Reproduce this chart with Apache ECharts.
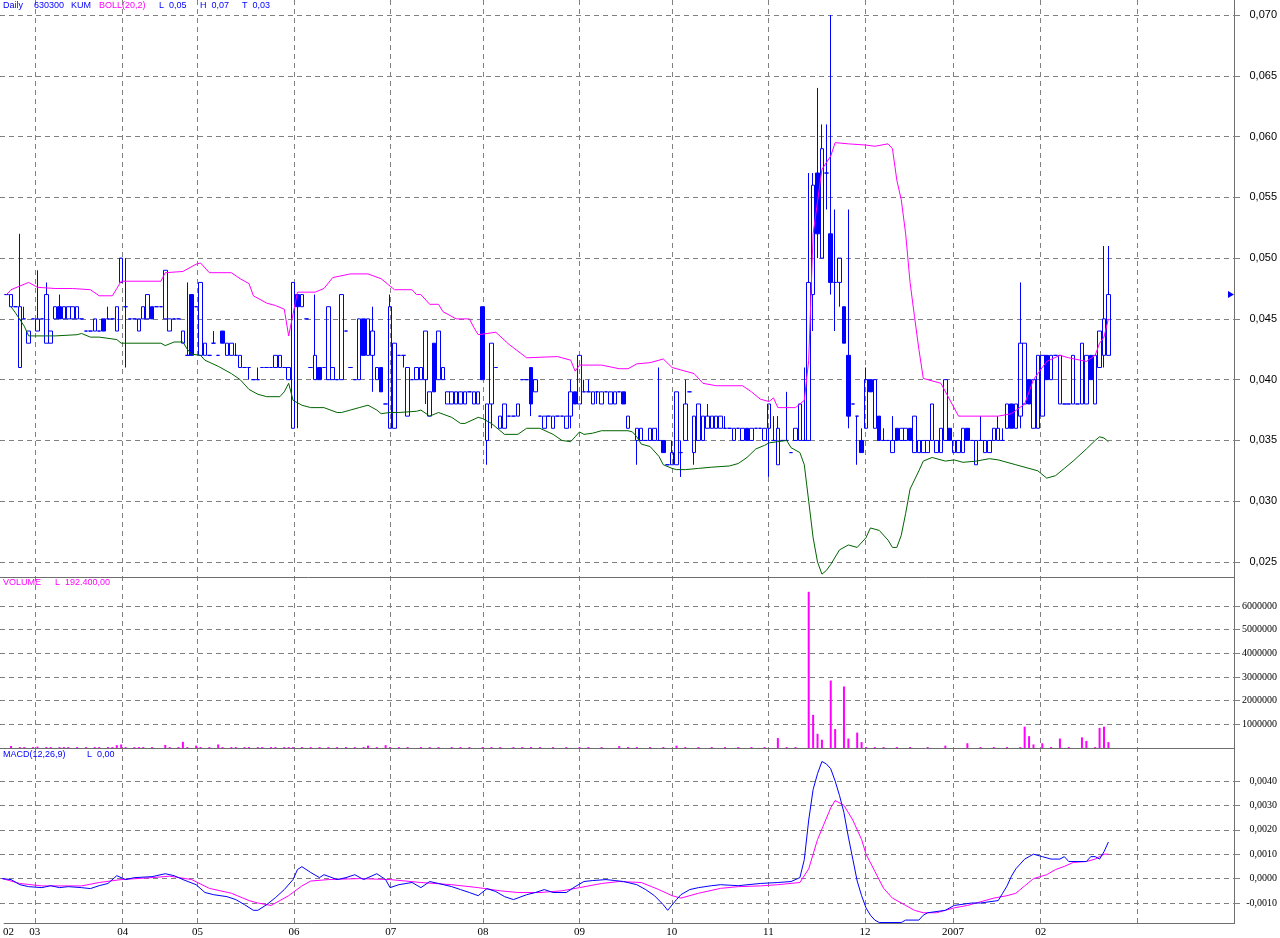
<!DOCTYPE html>
<html><head><meta charset="utf-8">
<script src="https://cdn.jsdelivr.net/npm/echarts@6/dist/echarts.min.js"></script>
<style>html,body{margin:0;padding:0;background:#fff}#c{width:1280px;height:938px}</style>
</head><body><div id="c"></div>
<script>
// trading days per month (Feb 2006 .. Mar 2007) and month labels
const monthBars = [7,20,17,22,22,21,22,21,22,22,20,20,22,22];
const monthLabels = ['02','03','04','05','06','07','08','09','10','11','12','2007','02',''];

// OHLC as [open, close, low, high]; null = no bar
const candles = [
null,[.047,.047,.047,.047],[.046,.047,.046,.047],[.046,.046,.046,.046],[.041,.046,.041,.052],[.045,.045,.045,.046],[.043,.044,.043,.044],
[.045,.045,.045,.045],[.044,.045,.044,.049],[.045,.045,.045,.045],[.043,.047,.043,.048],[.043,.044,.043,.044],[.045,.046,.045,.046],[.046,.045,.045,.047],
[.045,.046,.045,.046],[.045,.046,.045,.046],[.045,.046,.045,.046],[.045,.046,.045,.046],[.045,.045,.045,.045],[.044,.044,.044,.044],[.044,.044,.044,.044],
[.044,.045,.044,.045],[.044,.044,.044,.044],[.045,.044,.044,.045],[.045,.045,.045,.046],[.045,.045,.045,.045],[.044,.046,.044,.046],
[.048,.050,.048,.050],[.046,.046,.041,.050],[.045,.045,.045,.045],[.045,.045,.045,.045],[.044,.045,.044,.045],[.045,.046,.045,.046],[.045,.047,.045,.047],
[.046,.045,.045,.046],[.046,.046,.046,.046],[.046,.046,.046,.046],[.045,.049,.045,.049],[.044,.045,.044,.045],[.045,.045,.045,.045],[.045,.045,.045,.045],
[.043,.044,.043,.044],[.042,.042,.042,.048],[.047,.042,.042,.047],
[.046,.046,.046,.046],[.042,.048,.042,.048],[.042,.043,.042,.043],[.042,.042,.042,.042],[.043,.043,.043,.044],[.042,.042,.042,.042],[.044,.043,.043,.044],
[.042,.043,.042,.043],[.042,.043,.042,.043],[.042,.042,.042,.043],[.041,.042,.041,.042],[.041,.041,.041,.041],[.041,.041,.040,.041],[.040,.040,.040,.040],
[.040,.040,.040,.041],[.041,.041,.041,.041],[.041,.041,.041,.041],[.041,.041,.041,.041],[.041,.042,.041,.042],[.041,.042,.041,.042],[.041,.041,.041,.041],
[.040,.041,.040,.041],
[.036,.048,.036,.048],[.047,.046,.036,.047],[.046,.047,.046,.047],[.045,.045,.045,.045],[.041,.041,.041,.041],[.040,.042,.040,.047],[.041,.040,.040,.041],
[.041,.041,.041,.041],[.040,.046,.040,.046],[.040,.041,.040,.041],[.040,.040,.040,.040],[.040,.047,.040,.047],[.044,.044,.044,.044],[.041,.041,.041,.041],
[.040,.040,.040,.040],[.040,.045,.040,.045],[.045,.042,.042,.045],[.042,.045,.042,.045],[.042,.044,.039,.046],[.040,.041,.040,.041],[.041,.039,.039,.041],
[.038,.038,.038,.038],
[.036,.046,.036,.047],[.036,.043,.036,.043],[.042,.042,.042,.042],[.042,.042,.041,.042],[.037,.041,.037,.041],[.040,.040,.040,.040],[.040,.041,.040,.041],
[.040,.041,.040,.041],[.040,.044,.038,.044],[.037,.039,.037,.039],[.043,.039,.039,.043],[.040,.044,.040,.044],[.040,.041,.040,.041],[.038,.039,.038,.039],
[.038,.039,.038,.039],[.038,.039,.038,.039],[.038,.039,.038,.039],[.038,.039,.038,.039],[.039,.039,.039,.039],[.038,.039,.038,.039],[.038,.039,.038,.039],
[.046,.040,.040,.046],[.035,.038,.033,.038],[.038,.043,.036,.043],[.041,.041,.041,.041],[.036,.037,.036,.037],[.036,.038,.036,.038],[.037,.037,.037,.037],
[.037,.037,.037,.037],[.037,.038,.037,.038],[.040,.040,.040,.040],[.040,.040,.040,.040],[.041,.038,.037,.041],[.039,.040,.039,.040],[.037,.037,.037,.037],
[.036,.037,.036,.037],[.037,.037,.037,.037],[.036,.037,.036,.037],[.037,.037,.037,.037],[.037,.037,.037,.037],[.036,.037,.036,.037],[.037,.039,.036,.040],
[.039,.038,.038,.039],
[.038,.042,.038,.042],[.039,.039,.039,.040],[.039,.039,.039,.040],[.038,.039,.038,.039],[.039,.039,.038,.039],[.038,.039,.038,.039],[.039,.039,.039,.039],
[.038,.039,.038,.039],[.038,.039,.038,.039],[.039,.039,.039,.039],[.039,.038,.038,.039],[.036,.037,.036,.037],null,[.035,.036,.033,.036],
[.035,.036,.035,.036],[.035,.035,.035,.035],[.035,.036,.035,.036],[.035,.036,.035,.036],[.035,.035,.035,.041],[.035,.034,.034,.035],[.033,.033,.033,.033],
[.033,.034,.033,.035],[.033,.039,.033,.039],[.034,.034,.032,.035],[.035,.038,.035,.040],[.039,.039,.039,.039],[.034,.037,.033,.037],[.035,.038,.035,.038],
[.035,.037,.035,.037],[.036,.037,.036,.038],[.036,.037,.036,.037],[.036,.037,.036,.037],[.036,.037,.036,.037],[.036,.036,.036,.037],[.036,.036,.036,.036],
[.035,.036,.035,.036],[.036,.036,.036,.036],[.035,.036,.035,.036],[.036,.035,.035,.036],[.035,.036,.035,.036],[.036,.036,.036,.036],[.036,.036,.036,.036],
[.035,.036,.035,.036],
[.036,.038,.032,.038],[.035,.035,.035,.037],[.033,.036,.033,.037],[.035,.035,.035,.035],[.035,.035,.035,.039],[.034,.034,.034,.034],[.035,.036,.035,.036],
[.035,.038,.035,.038],[.035,.035,.035,.041],[.035,.048,.035,.057],[.047,.056,.044,.057],[.057,.052,.050,.064],[.050,.059,.050,.061],[.057,.057,.054,.061],
[.052,.048,.047,.070],[.048,.048,.044,.054],[.048,.050,.046,.050],[.046,.043,.043,.046],[.042,.037,.036,.054],[.038,.038,.038,.038],[.037,.037,.033,.037],
[.035,.034,.034,.036],
[.036,.040,.036,.041],[.040,.039,.039,.040],[.036,.040,.036,.040],[.037,.035,.035,.037],[.035,.035,.035,.036],[.035,.035,.035,.035],[.034,.035,.034,.037],
[.036,.035,.035,.036],[.035,.036,.035,.036],[.035,.036,.035,.036],[.036,.035,.035,.036],[.034,.037,.034,.037],[.034,.035,.034,.035],[.034,.035,.034,.035],
[.034,.035,.034,.035],[.035,.038,.035,.038],[.034,.035,.034,.035],[.034,.036,.034,.036],[.035,.040,.035,.040],[.036,.035,.035,.036],
[.034,.035,.034,.035],[.034,.035,.034,.035],[.034,.036,.034,.036],[.036,.035,.035,.036],[.035,.035,.035,.035],[.033,.035,.033,.035],[.035,.035,.035,.037],
[.034,.035,.034,.035],[.034,.035,.034,.035],[.035,.036,.035,.036],[.035,.036,.035,.037],[.035,.035,.035,.036],[.036,.038,.036,.038],[.038,.036,.036,.038],
[.036,.038,.036,.038],[.037,.043,.036,.048],[.038,.043,.038,.043],[.040,.038,.038,.040],[.036,.040,.036,.040],[.036,.042,.036,.042],
[.037,.042,.037,.042],[.042,.040,.040,.042],[.040,.042,.040,.042],[.042,.042,.042,.042],[.038,.042,.038,.042],[.038,.038,.038,.038],[.038,.038,.038,.038],
[.038,.042,.038,.042],[.038,.038,.038,.038],[.038,.043,.038,.043],[.038,.042,.038,.042],[.042,.040,.040,.042],[.038,.042,.038,.042],[.041,.044,.041,.044],
[.042,.045,.041,.051],[.042,.047,.042,.051]
];

// Bollinger bands (20,2): [bar index, value]
const bollUpper = [[1,.0470],[2,.0474],[6,.0480],[8,.0476],[12,.0475],[16,.0475],[20,.0474],[22,.0469],[25,.0469],[26,.0475],[27,.0481],[36,.0481],[37,.0488],[41,.0489],[44,.0495],[45,.0496],[47,.0488],[52,.0488],[54,.0483],[56,.0479],[57,.0469],[60,.0463],[62,.0461],[64,.0458],[65,.0436],[67,.0472],[71,.0472],[73,.0475],[75,.0484],[79,.0487],[83,.0487],[86,.0483],[88,.0477],[89,.0474],[93,.0474],[94,.0470],[95,.0470],[97,.0462],[99,.0462],[100,.0456],[103,.0450],[106,.0450],[107,.0443],[108,.0437],[112,.0439],[115,.0429],[119,.0418],[126,.0419],[129,.0416],[130,.0407],[131,.0412],[136,.0412],[140,.0409],[142,.0409],[144,.0413],[147,.0414],[150,.0417],[152,.0410],[154,.0408],[157,.0405],[159,.0397],[162,.0395],[168,.0395],[170,.0390],[172,.0384],[174,.0382],[175,.0385],[176,.0377],[180,.0377],[181,.0380],[182,.0383],[183,.0416],[184,.0520],[186,.0573],[188,.0584],[189,.0595],[192,.0594],[196,.0593],[198,.0592],[201,.0594],[202,.0590],[203,.0564],[204,.0548],[205,.0520],[206,.0480],[207,.0452],[208,.0425],[209,.0401],[213,.0397],[217,.0370],[226,.0370],[229,.0372],[232,.0380],[234,.0400],[237,.0415],[240,.0420],[242,.0418],[246,.0415],[248,.0420],[249,.0430],[250,.0435],[251,.0450]];
const bollLower = [[2,.0460],[3,.0455],[5,.0444],[6,.0436],[12,.0436],[17,.0437],[18,.0438],[20,.0435],[22,.0435],[24,.0434],[26,.0433],[27,.0430],[36,.0430],[37,.0428],[39,.0431],[41,.0431],[42,.0425],[43,.0421],[45,.0420],[46,.0416],[49,.0411],[52,.0405],[54,.0400],[56,.0392],[58,.0388],[60,.0386],[63,.0386],[64,.0390],[65,.0397],[66,.0383],[68,.0379],[70,.0377],[73,.0377],[76,.0373],[77,.0373],[79,.0375],[81,.0377],[83,.0379],[85,.0375],[86,.0372],[88,.0373],[90,.0373],[94,.0374],[95,.0375],[97,.0370],[99,.0373],[102,.0369],[104,.0364],[105,.0364],[108,.0369],[109,.0368],[111,.0364],[114,.0355],[117,.0355],[119,.0360],[122,.0360],[125,.0355],[127,.0350],[129,.0349],[130,.0353],[131,.0357],[132,.0355],[134,.0356],[136,.0358],[142,.0358],[143,.0357],[144,.0353],[145,.0347],[147,.0345],[149,.0337],[150,.0330],[152,.0327],[153,.0326],[155,.0326],[158,.0327],[161,.0328],[165,.0329],[167,.0331],[169,.0336],[171,.0343],[173,.0346],[174,.0348],[176,.0349],[178,.0350],[179,.0344],[181,.0340],[182,.0330],[183,.0300],[184,.0270],[185,.0250],[186,.0240],[187,.0243],[188,.0248],[190,.0260],[192,.0264],[194,.0262],[196,.0270],[197,.0278],[199,.0276],[201,.0268],[202,.0262],[203,.0262],[204,.0272],[205,.0290],[206,.0310],[208,.0325],[209,.0333],[211,.0336],[214,.0333],[216,.0334],[218,.0332],[221,.0333],[224,.0335],[226,.0334],[228,.0332],[230,.0330],[233,.0327],[235,.0325],[237,.0319],[239,.0321],[241,.0327],[243,.0333],[246,.0343],[248,.0350],[249,.0353],[250,.0352],[251,.0349]];

// Volume: [bar index, shares]
const volume = [[2,85000],[4,40000],[5,40000],[7,40000],[8,60000],[10,40000],[11,40000],[13,40000],[14,40000],[15,40000],[17,40000],[19,40000],[21,40000],[22,40000],[24,40000],[25,40000],[26,120000],[27,150000],[28,40000],[30,40000],[31,40000],[32,40000],[34,40000],[37,130000],[38,40000],[40,40000],[41,260000],[42,40000],[44,100000],[45,40000],[47,40000],[49,150000],[50,40000],[52,40000],[53,40000],[55,40000],[56,40000],[58,40000],[59,40000],[61,40000],[62,40000],[64,40000],[65,40000],[66,40000],[68,40000],[70,40000],[72,40000],[74,40000],[76,40000],[78,40000],[80,40000],[82,40000],[83,100000],[85,40000],[87,120000],[88,40000],[90,40000],[92,40000],[95,40000],[97,40000],[99,40000],[102,40000],[104,40000],[106,40000],[109,40000],[111,40000],[113,40000],[116,40000],[118,40000],[120,40000],[122,40000],[125,40000],[128,40000],[131,40000],[133,40000],[136,40000],[140,80000],[142,40000],[144,40000],[147,40000],[150,40000],[153,100000],[155,40000],[158,40000],[161,40000],[164,40000],[167,40000],[170,40000],[173,40000],[176,420000],[178,40000],[180,40000],[183,6600000],[184,1400000],[185,600000],[186,350000],[188,2850000],[189,800000],[191,2600000],[192,400000],[194,650000],[195,250000],[196,40000],[198,40000],[200,40000],[203,40000],[206,40000],[210,40000],[214,100000],[219,200000],[222,40000],[225,40000],[228,40000],[231,40000],[232,900000],[233,500000],[234,150000],[236,200000],[238,40000],[240,400000],[242,40000],[245,450000],[246,300000],[248,40000],[249,850000],[250,900000],[251,250000]];

// MACD(12,26,9): [bar index, value]
const macdLine = [[0,.0000],[2,-.00004],[4,-.00025],[6,-.00033],[9,-.00037],[11,-.00029],[13,-.00037],[15,-.00033],[18,-.00037],[20,-.00041],[22,-.00029],[24,-.0002],[26,.00012],[28,-.00004],[30,.00004],[34,.00008],[37,.0002],[39,.00012],[41,-.00004],[44,-.00025],[46,-.00057],[48,-.00066],[51,-.00074],[53,-.00086],[55,-.00107],[57,-.0013],[58,-.0013],[60,-.00107],[62,-.00078],[64,-.00045],[66,-.00004],[67,.00037],[68,.00049],[70,.00025],[72,.00004],[73,.00016],[76,-.00004],[78,.00004],[80,.00016],[82,-.00004],[85,.0002],[87,-.00004],[88,-.00037],[90,-.00025],[93,-.00016],[95,-.00037],[97,-.00012],[99,-.0002],[102,-.00033],[104,-.00045],[106,-.00057],[108,-.0007],[110,-.00041],[112,-.00053],[114,-.00074],[116,-.00086],[119,-.00066],[121,-.00057],[123,-.00045],[125,-.00057],[128,-.00057],[130,-.00033],[132,-.00012],[134,-.00008],[137,-.00004],[139,-.00008],[141,-.00012],[144,-.00025],[146,-.00045],[148,-.0007],[150,-.00107],[151,-.0013],[153,-.00086],[154,-.00066],[156,-.00045],[158,-.00037],[161,-.00029],[163,-.00025],[167,-.00029],[172,-.0002],[176,-.00016],[179,-.00012],[181,.00004],[182,.00078],[183,.0024],[184,.00365],[185,.0043],[186,.0048],[187,.0047],[188,.0045],[189,.0040],[190,.0034],[191,.0027],[192,.0017],[193,.0008],[194,-.0001],[195,-.0007],[196,-.0012],[197,-.0015],[198,-.0017],[199,-.0018],[204,-.0018],[205,-.0017],[208,-.0017],[209,-.0015],[210,-.0014],[214,-.0013],[216,-.0011],[220,-.0010],[222,-.0010],[226,-.0009],[227,-.0006],[228,-.0003],[229,.0001],[230,.0004],[231,.0006],[232,.0008],[233,.0009],[234,.0010],[236,.0009],[238,.0008],[240,.0008],[241,.0009],[242,.0007],[246,.0007],[247,.0009],[248,.0009],[249,.0008],[250,.0011],[251,.0015]];
const macdSignal = [[0,.0000],[4,-.0002],[9,-.0003],[18,-.0003],[22,-.00016],[27,-.00004],[34,.00004],[38,.0001],[43,-.00004],[47,-.0004],[52,-.0006],[56,-.0009],[58,-.0010],[61,-.0011],[63,-.0009],[65,-.0007],[68,-.0003],[70,-.0001],[74,-.00004],[81,.0000],[88,-.00004],[95,-.00016],[102,-.00025],[108,-.00037],[113,-.0005],[117,-.00057],[122,-.00057],[127,-.0005],[131,-.00037],[136,-.0002],[140,-.00012],[145,-.00016],[149,-.00045],[152,-.0007],[154,-.0008],[158,-.0006],[163,-.0004],[167,-.00033],[172,-.0003],[176,-.00025],[181,-.00016],[183,.0004],[185,.0016],[188,.0029],[189,.0032],[191,.0030],[193,.0024],[195,.0016],[196,.0010],[198,.0003],[200,-.0004],[202,-.0008],[205,-.0011],[207,-.0013],[209,-.0014],[212,-.0014],[214,-.0013],[216,-.0012],[219,-.0011],[221,-.0010],[223,-.0009],[225,-.0008],[228,-.0007],[230,-.0006],[232,-.0003],[234,.0000],[237,.00016],[239,.00037],[241,.0005],[243,.00066],[246,.0007],[248,.0008],[250,.0010],[251,.0010]];

// ---- build categories and month boundaries ----
const categories = [];
const lineValues = [];      // month boundaries that get a dashed line
const labelAt = {};         // label position -> text
const firstBar = candles.findIndex(d => d);
monthBars.forEach((n, m) => {
  const start = categories.length;
  if (m === 0) { labelAt[firstBar] = monthLabels[m]; }
  else { lineValues.push(start); if (monthLabels[m]) labelAt[start] = monthLabels[m]; }
  for (let k = 0; k < n; k++) categories.push('m' + m + 'd' + (k + 1));
});
const N = categories.length;
const labelValues = Object.keys(labelAt).map(Number);
const candleData = candles.map(d => d ? d : ['-','-','-','-']);

const BLUE = '#0000ff', MAG = '#ff00ff', GREEN = '#006400', GRID = '#808080', FRAME = '#6e6e6e';
const dash = {color: GRID, type: [5, 4], width: 1};

const chart = echarts.init(document.getElementById('c'), null, {renderer: 'canvas'});

const hiddenX = g => ({type: 'category', gridIndex: g, data: categories, boundaryGap: true, show: false});
const yBase = (g, min, max, interval, fmt, font, size) => ({
  type: 'value', gridIndex: g, position: 'right', min, max, interval,
  axisLine: {show: false},
  axisTick: {show: true, length: 6, lineStyle: {color: GRID}},
  splitLine: {show: true, lineStyle: dash},
  axisLabel: {formatter: fmt, align: 'right', margin: 43, fontSize: size, fontFamily: font, color: '#000'}
});

const txt = (x, y, s, color) => ({type: 'text', x, y, silent: true,
  style: {text: s, fill: color, font: '9px "Liberation Sans"', verticalAlign: 'top'}});
const hline = (x1, y1, x2, y2) => ({type: 'line', silent: true, shape: {x1, y1, x2, y2}, style: {stroke: FRAME, lineWidth: 1}});

const option = {
  animation: false,
  backgroundColor: '#fff',
  grid: [
    {left: 0, top: 15, width: 1234, height: 547},
    {left: 0, top: 606, width: 1234, height: 142},
    {left: 0, top: 781, width: 1234, height: 122},
    {left: 0, top: 0, width: 1234, height: 924}
  ],
  xAxis: [hiddenX(0), hiddenX(1), hiddenX(2), {
    type: 'value', gridIndex: 3, min: 0, max: N,
    axisLine: {show: true, onZero: false, lineStyle: {color: FRAME}},
    axisTick: {show: true, length: 0, customValues: lineValues},
    axisLabel: {customValues: labelValues, formatter: v => labelAt[Math.round(v)] || '',
      fontSize: 11, fontFamily: 'Liberation Serif', color: '#000', margin: 4, showMinLabel: true, showMaxLabel: true},
    splitLine: {show: true, lineStyle: dash}
  }],
  yAxis: [
    yBase(0, .025, .070, .005, v => v.toFixed(3).replace('.', ','), 'Liberation Sans', 11),
    yBase(1, 0, 6000000, 1000000, v => String(Math.round(v)), 'Liberation Serif', 10),
    yBase(2, -.001, .004, .001, v => v.toFixed(4).replace('.', ','), 'Liberation Serif', 10),
    {type: 'value', gridIndex: 3, show: false, min: 0, max: 1}
  ],
  series: [
    {type: 'candlestick', xAxisIndex: 0, yAxisIndex: 0, data: candleData, barWidth: 4, clip: false, z: 2,
     itemStyle: {color: 'rgba(255,255,255,0)', color0: BLUE, borderColor: BLUE, borderColor0: BLUE, borderWidth: 1}},
    {type: 'line', xAxisIndex: 0, yAxisIndex: 0, data: bollUpper, symbol: 'none', clip: false, z: 3,
     lineStyle: {color: MAG, width: 1}},
    {type: 'line', xAxisIndex: 0, yAxisIndex: 0, data: bollLower, symbol: 'none', clip: false, z: 3,
     lineStyle: {color: GREEN, width: 1}},
    {type: 'bar', xAxisIndex: 1, yAxisIndex: 1, data: volume, barWidth: 2, clip: false,
     itemStyle: {color: MAG}},
    {type: 'line', xAxisIndex: 2, yAxisIndex: 2, data: macdSignal, symbol: 'none', clip: false, z: 3,
     lineStyle: {color: MAG, width: 1}},
    {type: 'line', xAxisIndex: 2, yAxisIndex: 2, data: macdLine, symbol: 'none', clip: false, z: 4,
     lineStyle: {color: BLUE, width: 1}}
  ]
};
option.yAxis[1].axisLabel.showMinLabel = false;
chart.setOption(option);

// right border, panel separators, headers, last-price marker
const lastIdx = candles.length - 1;
const lastY = chart.convertToPixel({xAxisIndex: 0, yAxisIndex: 0}, [lastIdx, candles[lastIdx][1]])[1];
chart.setOption({graphic: [
  hline(0, 577.5, 1234, 577.5),
  hline(0, 748.5, 1234, 748.5),
  hline(1234.5, 0, 1234.5, 924),
  txt(3, 1, 'Daily', BLUE), txt(34, 1, '630300', BLUE), txt(71, 1, 'KUM', BLUE),
  txt(99, 1, 'BOLL(20,2)', MAG), txt(159, 1, 'L  0,05', BLUE), txt(200, 1, 'H  0,07', BLUE), txt(242, 1, 'T  0,03', BLUE),
  txt(3, 578, 'VOLUME', MAG), txt(55, 578, 'L  192.400,00', MAG),
  txt(3, 750, 'MACD(12,26,9)', BLUE), txt(87, 750, 'L  0,00', BLUE),
  {type: 'polygon', silent: true, shape: {points: [[1228, lastY - 3.5], [1234, lastY], [1228, lastY + 3.5]]}, style: {fill: BLUE}}
]});
</script></body></html>
